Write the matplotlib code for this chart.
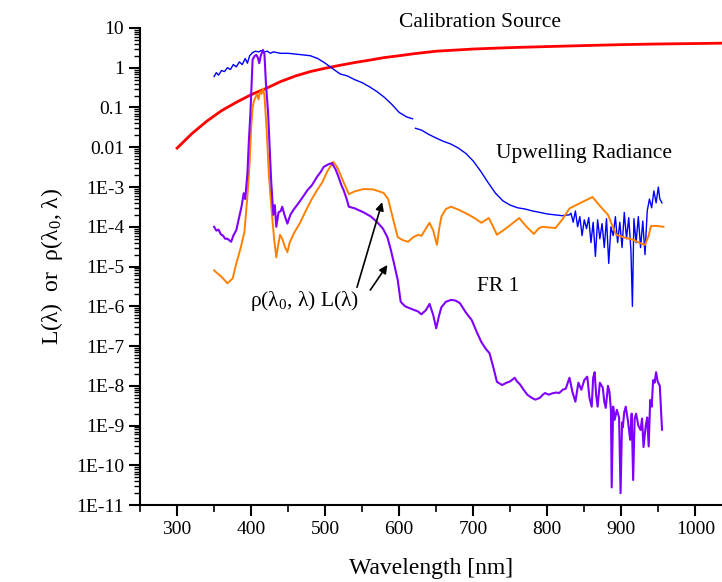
import matplotlib
matplotlib.use("Agg")
import matplotlib.pyplot as plt
import matplotlib.ticker as mticker
import numpy as np

plt.rcParams['font.family'] = ['Liberation Serif', 'DejaVu Serif']
plt.rcParams['mathtext.default'] = 'regular'

# Calibration source
red_wl = [300, 320, 340, 360, 380, 400, 420, 440, 460, 480, 500, 520, 540, 560, 580, 600, 620, 650,
          700, 750, 800, 850, 900, 950, 1000, 1040]
red_val = [0.0095, 0.022, 0.045, 0.083, 0.135, 0.21, 0.30, 0.45, 0.62, 0.80, 0.97, 1.15, 1.35, 1.55,
           1.8, 2.0, 2.25, 2.6, 2.95, 3.2, 3.4, 3.6, 3.8, 3.95, 4.05, 4.15]

# Upwelling radiance, two pieces with a gap near 620 nm
blue_wl_a = [350, 353, 356, 360, 364, 368, 372, 376, 380, 384, 388, 392, 395, 398, 402, 406, 410, 414,
             418, 422, 426, 430, 440, 450, 460, 470, 480, 490, 500, 510, 520, 530, 540, 550, 560, 570,
             580, 590, 600, 610, 618]
blue_val_a = [0.6, 0.75, 0.65, 0.85, 0.8, 1.0, 0.9, 1.2, 1.05, 1.4, 1.2, 1.7, 1.3, 2.0, 2.4, 2.6, 2.5, 2.7,
              2.5, 2.6, 2.3, 2.5, 2.3, 2.3, 2.2, 2.1, 2.0, 1.7, 1.3, 0.95, 0.7, 0.62, 0.5, 0.42, 0.33, 0.25,
              0.18, 0.12, 0.075, 0.058, 0.052]
blue_wl_b = [622, 630, 640, 650, 660, 670, 680, 690, 700, 710, 720, 730, 740, 750, 760, 770, 780, 790,
             800, 810, 820, 830, 832, 835, 838, 841, 844, 847, 850, 853, 856, 859, 862, 865, 868, 871,
             874, 877, 880, 883, 886, 889, 892, 895, 898, 901, 904, 907, 910, 913, 915, 917, 920, 923,
             926, 929, 932, 935, 938, 941, 944, 947, 950, 952, 955]
blue_val_b = [0.030, 0.027, 0.021, 0.017, 0.014, 0.012, 0.0095, 0.007, 0.0045, 0.0025, 0.0013, 0.0007,
              0.00045, 0.00035, 0.0003, 0.00028, 0.00025, 0.00023, 0.00021, 0.0002, 0.00019, 0.0002,
              2.2e-4, 1.3e-4, 2.5e-4, 1.0e-4, 1.8e-4, 6e-5, 1.5e-4, 9e-5, 1.7e-4, 4e-5, 1.3e-4, 1.8e-5,
              1.5e-4, 5e-5, 1.2e-4, 3e-5, 1.6e-4, 1.2e-5, 1.0e-4, 6e-5, 1.8e-4, 4e-5, 1.3e-4, 3e-5,
              2.3e-4, 5e-5, 1.7e-4, 2.5e-5, 1e-6, 1.6e-4, 4e-5, 1.8e-4, 3e-5, 1.4e-4, 2.0e-5, 2.5e-4,
              5e-4, 3e-4, 8e-4, 4e-4, 1.0e-3, 5e-4, 4e-4]

# rho(l0, l) L(l)
orange_wl = [350, 360, 368, 375, 380, 386, 391, 395, 398, 400, 402, 404, 406, 408, 410, 412, 414, 416,
             418, 421, 424, 428, 431, 434, 436, 439, 442, 446, 449, 452, 458, 466, 475, 482, 489, 496,
             503, 511, 516, 520, 525, 532, 540, 552, 565, 579, 585, 592, 598, 605, 612, 619, 626, 630,
             636, 641, 646, 651, 654, 657, 663, 670, 680, 694, 703, 711, 721, 727, 732, 740, 750, 762,
             772, 782, 788, 793, 811, 820, 830, 845, 861, 872, 882, 893, 905, 916, 924, 932, 937, 940,
             948, 957]
orange_val = [8e-6, 5.5e-6, 3.8e-6, 5e-6, 1.2e-5, 3e-5, 7.4e-5, 6e-4, 4e-3, 3e-2, 0.1, 0.15, 0.18, 0.22,
              0.16, 0.25, 0.22, 0.3, 0.2, 0.027, 2e-3, 2.2e-4, 5e-5, 1.7e-5, 3e-5, 6.3e-5, 5e-5, 3e-5,
              2.3e-5, 4e-5, 7e-5, 1.25e-4, 2.8e-4, 5e-4, 8.3e-4, 1.3e-3, 2.5e-3, 4.3e-3, 3.2e-3, 2.2e-3,
              1.3e-3, 6.6e-4, 7.8e-4, 8.9e-4, 8.7e-4, 7.1e-4, 5e-4, 1.5e-4, 5.5e-5, 4.6e-5, 4.2e-5,
              5.5e-5, 6.3e-5, 5.9e-5, 9e-5, 1.26e-4, 8e-5, 3.5e-5, 9e-5, 1.8e-4, 2.8e-4, 3.2e-4, 2.7e-4,
              2.0e-4, 1.6e-4, 1.26e-4, 1.66e-4, 1.0e-4, 6.3e-5, 8e-5, 1.1e-4, 1.66e-4, 1.0e-4, 6.6e-5,
              9e-5, 1.0e-4, 9.3e-5, 1.5e-4, 2.9e-4, 4e-4, 5.6e-4, 3.2e-4, 2.0e-4, 6.3e-5, 5.3e-5, 4.7e-5,
              4e-5, 3.5e-5, 6e-5, 1.05e-4, 1.05e-4, 1.0e-4]

# FR 1
purple_wl = [350, 353, 356, 359, 362, 365, 368, 371, 373, 376, 380, 384, 387, 390, 392, 394, 395, 397,
             399, 401, 402, 405, 407, 409, 411, 413, 416, 418, 420, 423, 425, 427, 429, 430, 432, 434,
             437, 440, 442, 445, 449, 453, 458, 462, 468, 476, 482, 489, 494, 498, 504, 509, 514, 518,
             522, 525, 529, 532, 540, 552, 562, 571, 578, 584, 589, 593, 598, 602, 608, 614, 620, 625,
             630, 636, 641, 646, 650, 654, 657, 663, 670, 676, 682, 690, 698, 705, 711, 717, 722, 727,
             732, 739, 745, 750, 754, 756, 759, 763, 768, 773, 779, 784, 790, 794, 797, 802, 807, 812,
             816, 821, 825, 830, 834, 838, 842, 846, 850, 854, 857, 860, 862, 864, 866, 868, 871, 875,
             877, 879, 882, 884, 886, 887, 889, 891, 894, 897, 899, 901, 902, 904, 906, 909, 912, 914,
             916, 918, 920, 923, 926, 928, 930, 933, 935, 937, 939, 941, 943, 945, 947, 949, 952, 955]
purple_val = [1.0e-4, 8e-5, 8.5e-5, 6.5e-5, 6e-5, 5e-5, 5e-5, 4.5e-5, 4.2e-5, 6e-5, 8.3e-5, 1.8e-4,
              3.2e-4, 7e-4, 5e-4, 1.4e-3, 2.2e-3, 1.5e-2, 7e-2, 0.6, 1.6, 2.0, 2.1, 1.8, 1.3, 2.0, 2.8,
              2.2, 0.4, 0.07, 1e-2, 1.5e-3, 4e-4, 2e-4, 3.5e-4, 1.0e-4, 2.3e-4, 2.5e-4, 3.2e-4, 2.0e-4,
              1.2e-4, 2e-4, 2.8e-4, 3.5e-4, 5e-4, 8.3e-4, 1.1e-3, 1.8e-3, 2.4e-3, 3.2e-3, 3.7e-3, 4.0e-3,
              2.8e-3, 1.8e-3, 1.1e-3, 8.3e-4, 5e-4, 3.2e-4, 2.9e-4, 2.3e-4, 1.8e-4, 1.26e-4, 9e-5, 5.5e-5,
              2.5e-5, 1.2e-5, 4.6e-6, 1.3e-6, 1.0e-6, 9e-7, 8.1e-7, 7.5e-7, 6.3e-7, 8e-7, 1.15e-6, 6e-7,
              2.8e-7, 6e-7, 9.5e-7, 1.3e-6, 1.45e-6, 1.4e-6, 1.2e-6, 7e-7, 4.5e-7, 2.2e-7, 1.26e-7,
              8.5e-8, 6.6e-8, 3e-8, 1.26e-8, 1.05e-8, 1.2e-8, 1.3e-8, 1.5e-8, 1.6e-8, 1.3e-8, 1.1e-8,
              8e-9, 6e-9, 5e-9, 4.5e-9, 5e-9, 6e-9, 6.6e-9, 6e-9, 6.5e-9, 6.8e-9, 6.6e-9, 8e-9, 8.5e-9,
              1.6e-8, 7e-9, 4e-9, 1.2e-8, 8e-9, 1.4e-8, 1.7e-8, 5e-9, 3e-9, 1.6e-8, 2.2e-8, 6e-9, 3e-9,
              1.2e-8, 9e-9, 4e-9, 2.8e-9, 1e-8, 7e-9, 2.5e-9, 2.8e-11, 3e-9, 1.4e-9, 2.5e-9, 1.6e-9,
              2e-11, 1.2e-9, 9e-10, 2.2e-9, 3e-9, 1.3e-9, 4.4e-10, 2e-9, 4.3e-11, 1.5e-9, 2.0e-9, 1e-9,
              7.8e-10, 1.5e-9, 2.9e-10, 1e-9, 1.6e-9, 3e-10, 4.4e-9, 3e-9, 1.4e-8, 1.2e-8, 2.2e-8,
              1.3e-8, 1.0e-8, 7.9e-10]

y_ticks = [1e-11, 1e-10, 1e-9, 1e-8, 1e-7, 1e-6, 1e-5, 1e-4, 1e-3, 0.01, 0.1, 1, 10]
y_ticklabels = ["1E-11", "1E-10", "1E-9", "1E-8", "1E-7", "1E-6", "1E-5", "1E-4", "1E-3",
                "0.01", "0.1", "1", "10"]
x_ticks = [300, 400, 500, 600, 700, 800, 900, 1000]

fig = plt.figure(figsize=(7.22, 5.82), dpi=100)
ax = fig.add_axes([0.194, 0.132, 0.806, 0.820])

ax.plot(red_wl, red_val, color='#ff0000', lw=2.0)
ax.plot(blue_wl_a, blue_val_a, color='#0000ff', lw=1.0)
ax.plot(blue_wl_b, blue_val_b, color='#0000ff', lw=1.0)
ax.plot(orange_wl, orange_val, color='#ff8000', lw=1.4)
ax.plot(purple_wl, purple_val, color='#8000ff', lw=1.5)

ax.set_yscale('log')
ax.set_xlim(250, 1036)
ax.set_ylim(1e-11, 10)
ax.yaxis.set_major_locator(mticker.FixedLocator(y_ticks))
ax.yaxis.set_major_formatter(mticker.FixedFormatter(y_ticklabels))
ax.yaxis.set_minor_locator(mticker.LogLocator(base=10, subs=np.arange(2, 10), numticks=30))
ax.yaxis.set_minor_formatter(mticker.NullFormatter())
ax.xaxis.set_major_locator(mticker.FixedLocator(x_ticks))
ax.xaxis.set_minor_locator(mticker.MultipleLocator(50))

for side in ['top', 'right']:
    ax.spines[side].set_visible(False)
for side in ['left', 'bottom']:
    ax.spines[side].set_linewidth(1.5)
ax.tick_params(which='major', direction='out', length=8, width=1.5, labelsize=14)
ax.tick_params(which='minor', direction='out', length=5, width=1.2)
ax.tick_params(axis='y', which='minor', length=4, width=1.0)

ax.set_xlabel("Wavelength [nm]", fontsize=17, labelpad=14)
ax.set_ylabel("L(λ)  or  ρ(λ$_0$, λ)", fontsize=17, labelpad=8)

ax.text(709, 13.5, "Calibration Source", fontsize=15.5, ha='center', va='center', clip_on=False)
ax.text(849, 7.0e-3, "Upwelling Radiance", fontsize=15.5, ha='center', va='center')
ax.text(734, 3.2e-6, "FR 1", fontsize=15.5, ha='center', va='center')
ax.text(472, 1.4e-6, "ρ(λ$_0$, λ) L(λ)", fontsize=15.5, ha='center', va='center')

arrow = dict(arrowstyle='-|>', color='black', lw=1.2, mutation_scale=12, shrinkA=0, shrinkB=0)
ax.annotate("", xy=(577, 10**-3.38), xytext=(543, 10**-5.52), arrowprops=arrow)
ax.annotate("", xy=(584, 10**-4.96), xytext=(561, 10**-5.59), arrowprops=arrow)

fig.savefig("out.png", dpi=100)
